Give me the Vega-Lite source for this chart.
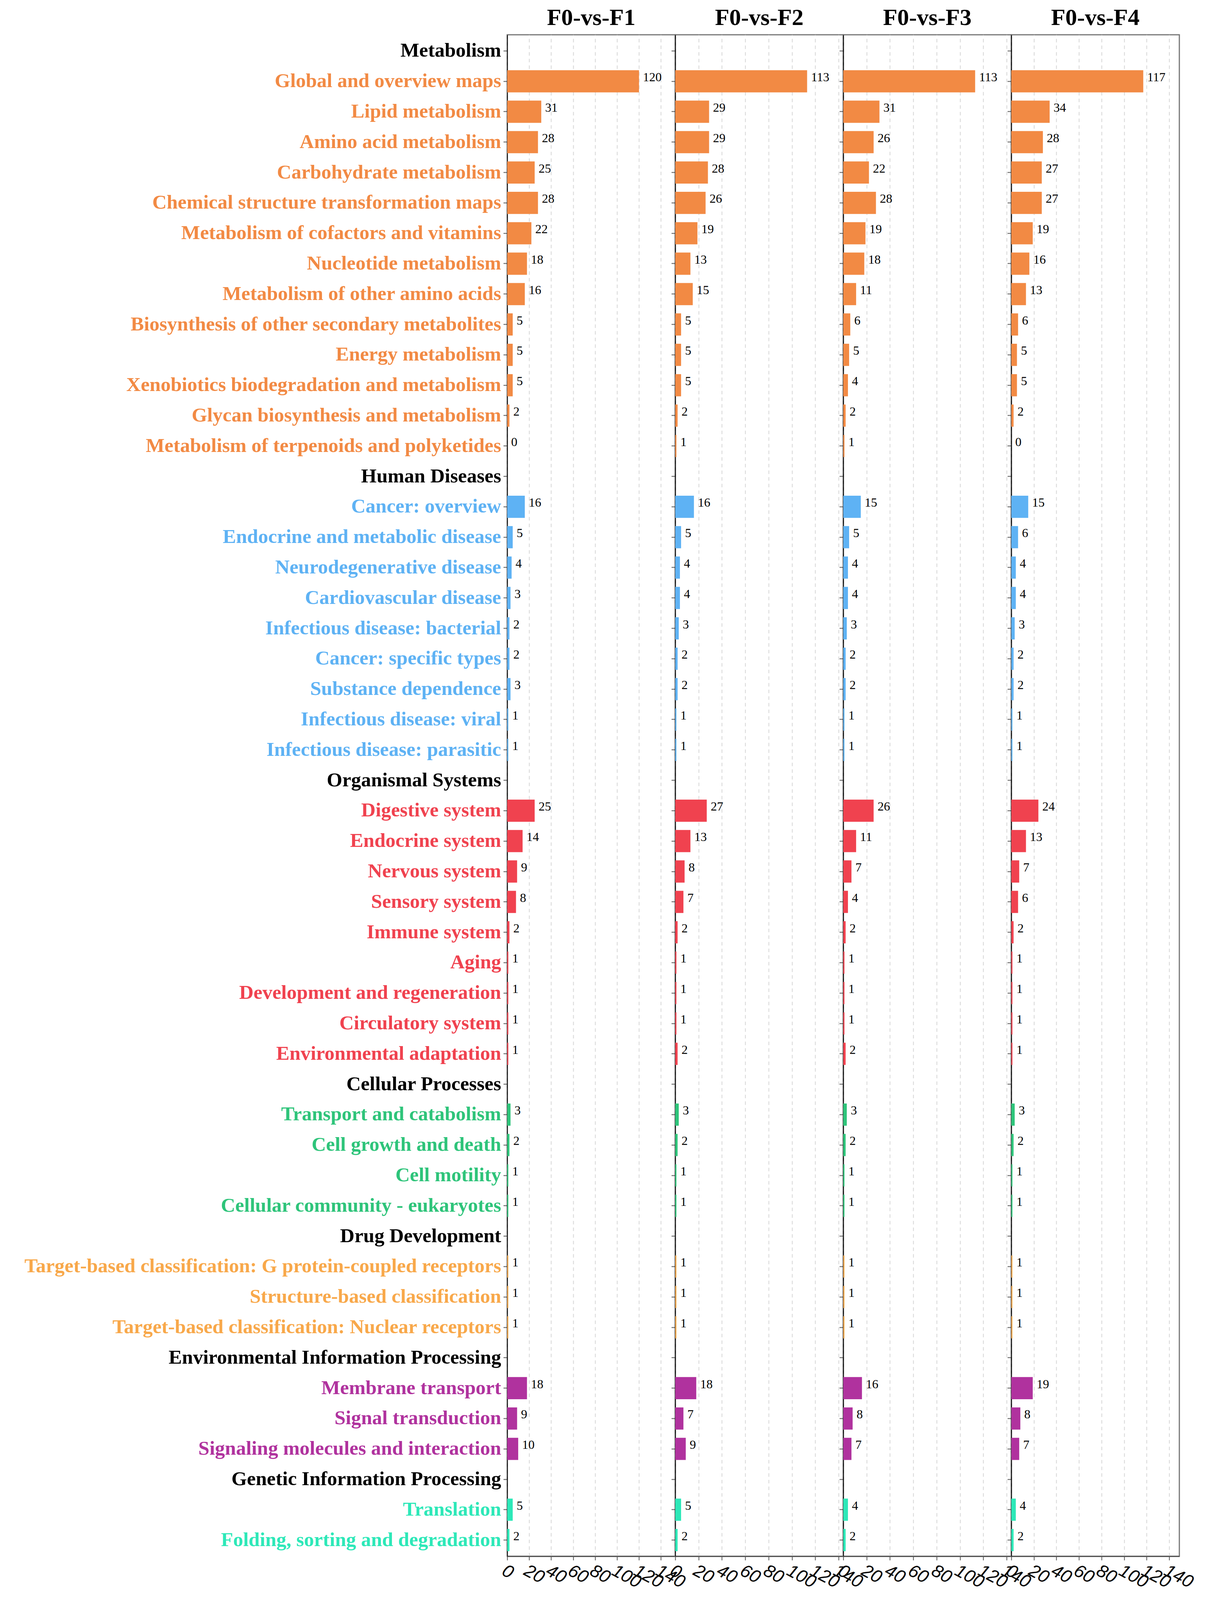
{
  "$schema": "https://vega.github.io/schema/vega-lite/v6.json",
  "padding": {"left": 60, "top": 14, "right": 0, "bottom": 0},
  "background": "white",
  "spacing": 0,
  "bounds": "flush",
  "config": {
    "view": {"stroke": "#777777", "strokeWidth": 3},
    "title": {"font": "Liberation Serif", "fontWeight": "bold", "fontSize": 60, "color": "black", "anchor": "middle", "offset": 12},
    "axisX": {
      "grid": true, "gridDash": [9, 8], "gridColor": "#d6d6d6", "gridWidth": 2,
      "labelAngle": 28, "labelAlign": "left", "labelBaseline": "top",
      "labelFont": "Liberation Sans", "labelFontStyle": "italic", "labelFontSize": 46, "labelColor": "black",
      "labelOverlap": false, "labelFlush": false, "labelPadding": 4,
      "domainColor": "#555555", "domainWidth": 3,
      "tickSize": 10, "tickColor": "#555555", "tickWidth": 2, "title": null
    },
    "axisY": {
      "grid": false, "title": null, "minExtent": 0,
      "domainColor": "black", "domainWidth": 2,
      "tickSize": 10, "tickColor": "#555555", "tickWidth": 2
    }
  },
  "params": [
    {"name": "metab", "value": ["Global and overview maps", "Lipid metabolism", "Amino acid metabolism", "Carbohydrate metabolism", "Chemical structure transformation maps", "Metabolism of cofactors and vitamins", "Nucleotide metabolism", "Metabolism of other amino acids", "Biosynthesis of other secondary metabolites", "Energy metabolism", "Xenobiotics biodegradation and metabolism", "Glycan biosynthesis and metabolism", "Metabolism of terpenoids and polyketides"]},
    {"name": "human", "value": ["Cancer: overview", "Endocrine and metabolic disease", "Neurodegenerative disease", "Cardiovascular disease", "Infectious disease: bacterial", "Cancer: specific types", "Substance dependence", "Infectious disease: viral", "Infectious disease: parasitic"]},
    {"name": "organ", "value": ["Digestive system", "Endocrine system", "Nervous system", "Sensory system", "Immune system", "Aging", "Development and regeneration", "Circulatory system", "Environmental adaptation"]},
    {"name": "cellp", "value": ["Transport and catabolism", "Cell growth and death", "Cell motility", "Cellular community - eukaryotes"]},
    {"name": "drug", "value": ["Target-based classification: G protein-coupled receptors", "Structure-based classification", "Target-based classification: Nuclear receptors"]},
    {"name": "envp", "value": ["Membrane transport", "Signal transduction", "Signaling molecules and interaction"]},
    {"name": "genp", "value": ["Translation", "Folding, sorting and degradation"]}
  ],
  "datasets": {
    "kegg": [
      {"term": "Global and overview maps", "cat": "Metabolism", "F1": 120, "F2": 113, "F3": 113, "F4": 117},
      {"term": "Lipid metabolism", "cat": "Metabolism", "F1": 31, "F2": 29, "F3": 31, "F4": 34},
      {"term": "Amino acid metabolism", "cat": "Metabolism", "F1": 28, "F2": 29, "F3": 26, "F4": 28},
      {"term": "Carbohydrate metabolism", "cat": "Metabolism", "F1": 25, "F2": 28, "F3": 22, "F4": 27},
      {"term": "Chemical structure transformation maps", "cat": "Metabolism", "F1": 28, "F2": 26, "F3": 28, "F4": 27},
      {"term": "Metabolism of cofactors and vitamins", "cat": "Metabolism", "F1": 22, "F2": 19, "F3": 19, "F4": 19},
      {"term": "Nucleotide metabolism", "cat": "Metabolism", "F1": 18, "F2": 13, "F3": 18, "F4": 16},
      {"term": "Metabolism of other amino acids", "cat": "Metabolism", "F1": 16, "F2": 15, "F3": 11, "F4": 13},
      {"term": "Biosynthesis of other secondary metabolites", "cat": "Metabolism", "F1": 5, "F2": 5, "F3": 6, "F4": 6},
      {"term": "Energy metabolism", "cat": "Metabolism", "F1": 5, "F2": 5, "F3": 5, "F4": 5},
      {"term": "Xenobiotics biodegradation and metabolism", "cat": "Metabolism", "F1": 5, "F2": 5, "F3": 4, "F4": 5},
      {"term": "Glycan biosynthesis and metabolism", "cat": "Metabolism", "F1": 2, "F2": 2, "F3": 2, "F4": 2},
      {"term": "Metabolism of terpenoids and polyketides", "cat": "Metabolism", "F1": 0, "F2": 1, "F3": 1, "F4": 0},
      {"term": "Cancer: overview", "cat": "Human Diseases", "F1": 16, "F2": 16, "F3": 15, "F4": 15},
      {"term": "Endocrine and metabolic disease", "cat": "Human Diseases", "F1": 5, "F2": 5, "F3": 5, "F4": 6},
      {"term": "Neurodegenerative disease", "cat": "Human Diseases", "F1": 4, "F2": 4, "F3": 4, "F4": 4},
      {"term": "Cardiovascular disease", "cat": "Human Diseases", "F1": 3, "F2": 4, "F3": 4, "F4": 4},
      {"term": "Infectious disease: bacterial", "cat": "Human Diseases", "F1": 2, "F2": 3, "F3": 3, "F4": 3},
      {"term": "Cancer: specific types", "cat": "Human Diseases", "F1": 2, "F2": 2, "F3": 2, "F4": 2},
      {"term": "Substance dependence", "cat": "Human Diseases", "F1": 3, "F2": 2, "F3": 2, "F4": 2},
      {"term": "Infectious disease: viral", "cat": "Human Diseases", "F1": 1, "F2": 1, "F3": 1, "F4": 1},
      {"term": "Infectious disease: parasitic", "cat": "Human Diseases", "F1": 1, "F2": 1, "F3": 1, "F4": 1},
      {"term": "Digestive system", "cat": "Organismal Systems", "F1": 25, "F2": 27, "F3": 26, "F4": 24},
      {"term": "Endocrine system", "cat": "Organismal Systems", "F1": 14, "F2": 13, "F3": 11, "F4": 13},
      {"term": "Nervous system", "cat": "Organismal Systems", "F1": 9, "F2": 8, "F3": 7, "F4": 7},
      {"term": "Sensory system", "cat": "Organismal Systems", "F1": 8, "F2": 7, "F3": 4, "F4": 6},
      {"term": "Immune system", "cat": "Organismal Systems", "F1": 2, "F2": 2, "F3": 2, "F4": 2},
      {"term": "Aging", "cat": "Organismal Systems", "F1": 1, "F2": 1, "F3": 1, "F4": 1},
      {"term": "Development and regeneration", "cat": "Organismal Systems", "F1": 1, "F2": 1, "F3": 1, "F4": 1},
      {"term": "Circulatory system", "cat": "Organismal Systems", "F1": 1, "F2": 1, "F3": 1, "F4": 1},
      {"term": "Environmental adaptation", "cat": "Organismal Systems", "F1": 1, "F2": 2, "F3": 2, "F4": 1},
      {"term": "Transport and catabolism", "cat": "Cellular Processes", "F1": 3, "F2": 3, "F3": 3, "F4": 3},
      {"term": "Cell growth and death", "cat": "Cellular Processes", "F1": 2, "F2": 2, "F3": 2, "F4": 2},
      {"term": "Cell motility", "cat": "Cellular Processes", "F1": 1, "F2": 1, "F3": 1, "F4": 1},
      {"term": "Cellular community - eukaryotes", "cat": "Cellular Processes", "F1": 1, "F2": 1, "F3": 1, "F4": 1},
      {"term": "Target-based classification: G protein-coupled receptors", "cat": "Drug Development", "F1": 1, "F2": 1, "F3": 1, "F4": 1},
      {"term": "Structure-based classification", "cat": "Drug Development", "F1": 1, "F2": 1, "F3": 1, "F4": 1},
      {"term": "Target-based classification: Nuclear receptors", "cat": "Drug Development", "F1": 1, "F2": 1, "F3": 1, "F4": 1},
      {"term": "Membrane transport", "cat": "Environmental Information Processing", "F1": 18, "F2": 18, "F3": 16, "F4": 19},
      {"term": "Signal transduction", "cat": "Environmental Information Processing", "F1": 9, "F2": 7, "F3": 8, "F4": 8},
      {"term": "Signaling molecules and interaction", "cat": "Environmental Information Processing", "F1": 10, "F2": 9, "F3": 7, "F4": 7},
      {"term": "Translation", "cat": "Genetic Information Processing", "F1": 5, "F2": 5, "F3": 4, "F4": 4},
      {"term": "Folding, sorting and degradation", "cat": "Genetic Information Processing", "F1": 2, "F2": 2, "F3": 2, "F4": 2}
    ]
  },
  "resolve": {"scale": {"x": "independent", "y": "shared", "color": "shared"}, "axis": {"x": "independent", "y": "independent"}},
  "hconcat": [
    {
      "width": 430, "height": 3895,
      "title": "F0-vs-F1",
      "data": {"name": "kegg"},
      "encoding": {
        "y": {"field": "term", "type": "nominal",
          "scale": {"domain": ["Metabolism", "Global and overview maps", "Lipid metabolism", "Amino acid metabolism", "Carbohydrate metabolism", "Chemical structure transformation maps", "Metabolism of cofactors and vitamins", "Nucleotide metabolism", "Metabolism of other amino acids", "Biosynthesis of other secondary metabolites", "Energy metabolism", "Xenobiotics biodegradation and metabolism", "Glycan biosynthesis and metabolism", "Metabolism of terpenoids and polyketides", "Human Diseases", "Cancer: overview", "Endocrine and metabolic disease", "Neurodegenerative disease", "Cardiovascular disease", "Infectious disease: bacterial", "Cancer: specific types", "Substance dependence", "Infectious disease: viral", "Infectious disease: parasitic", "Organismal Systems", "Digestive system", "Endocrine system", "Nervous system", "Sensory system", "Immune system", "Aging", "Development and regeneration", "Circulatory system", "Environmental adaptation", "Cellular Processes", "Transport and catabolism", "Cell growth and death", "Cell motility", "Cellular community - eukaryotes", "Drug Development", "Target-based classification: G protein-coupled receptors", "Structure-based classification", "Target-based classification: Nuclear receptors", "Environmental Information Processing", "Membrane transport", "Signal transduction", "Signaling molecules and interaction", "Genetic Information Processing", "Translation", "Folding, sorting and degradation"], "paddingInner": 0.27, "paddingOuter": 0.167},
          "axis": {"labelFont": "Liberation Serif", "labelFontWeight": "bold", "labelFontSize": 51, "labelLimit": 2000, "labelPadding": 6,
            "labelColor": {"expr": "indexof(metab, datum.value) >= 0 ? '#F28A44' : indexof(human, datum.value) >= 0 ? '#5EB2F4' : indexof(organ, datum.value) >= 0 ? '#F0424F' : indexof(cellp, datum.value) >= 0 ? '#2EC47A' : indexof(drug, datum.value) >= 0 ? '#F8A84A' : indexof(envp, datum.value) >= 0 ? '#B0329E' : indexof(genp, datum.value) >= 0 ? '#2DE8B8' : 'black'"}}}
      },
      "layer": [
        {"mark": {"type": "bar"},
         "encoding": {
           "x": {"field": "F1", "type": "quantitative", "scale": {"domain": [0, 153], "nice": false}, "axis": {"values": [0, 20, 40, 60, 80, 100, 120, 140]}},
           "color": {"field": "cat", "type": "nominal", "legend": null,
             "scale": {"domain": ["Metabolism", "Human Diseases", "Organismal Systems", "Cellular Processes", "Drug Development", "Environmental Information Processing", "Genetic Information Processing"], "range": ["#F28A44", "#5EB2F4", "#F0424F", "#2EC47A", "#F8A84A", "#B0329E", "#2DE8B8"]}}}},
        {"mark": {"type": "text", "align": "left", "baseline": "middle", "dx": 10, "dy": -10, "font": "Liberation Serif", "fontSize": 32, "color": "black"},
         "encoding": {"x": {"field": "F1", "type": "quantitative"}, "text": {"field": "F1", "type": "quantitative"}}}
      ]
    },
    {
      "width": 430, "height": 3895,
      "title": "F0-vs-F2",
      "data": {"name": "kegg"},
      "encoding": {"y": {"field": "term", "type": "nominal", "axis": {"labels": false}}},
      "layer": [
        {"mark": {"type": "bar"},
         "encoding": {
           "x": {"field": "F2", "type": "quantitative", "scale": {"domain": [0, 144], "nice": false}, "axis": {"values": [0, 20, 40, 60, 80, 100, 120, 140]}},
           "color": {"field": "cat", "type": "nominal", "legend": null}}},
        {"mark": {"type": "text", "align": "left", "baseline": "middle", "dx": 10, "dy": -10, "font": "Liberation Serif", "fontSize": 32, "color": "black"},
         "encoding": {"x": {"field": "F2", "type": "quantitative"}, "text": {"field": "F2", "type": "quantitative"}}}
      ]
    },
    {
      "width": 430, "height": 3895,
      "title": "F0-vs-F3",
      "data": {"name": "kegg"},
      "encoding": {"y": {"field": "term", "type": "nominal", "axis": {"labels": false}}},
      "layer": [
        {"mark": {"type": "bar"},
         "encoding": {
           "x": {"field": "F3", "type": "quantitative", "scale": {"domain": [0, 144], "nice": false}, "axis": {"values": [0, 20, 40, 60, 80, 100, 120, 140]}},
           "color": {"field": "cat", "type": "nominal", "legend": null}}},
        {"mark": {"type": "text", "align": "left", "baseline": "middle", "dx": 10, "dy": -10, "font": "Liberation Serif", "fontSize": 32, "color": "black"},
         "encoding": {"x": {"field": "F3", "type": "quantitative"}, "text": {"field": "F3", "type": "quantitative"}}}
      ]
    },
    {
      "width": 430, "height": 3895,
      "title": "F0-vs-F4",
      "data": {"name": "kegg"},
      "encoding": {"y": {"field": "term", "type": "nominal", "axis": {"labels": false}}},
      "layer": [
        {"mark": {"type": "bar"},
         "encoding": {
           "x": {"field": "F4", "type": "quantitative", "scale": {"domain": [0, 149], "nice": false}, "axis": {"values": [0, 20, 40, 60, 80, 100, 120, 140]}},
           "color": {"field": "cat", "type": "nominal", "legend": null}}},
        {"mark": {"type": "text", "align": "left", "baseline": "middle", "dx": 10, "dy": -10, "font": "Liberation Serif", "fontSize": 32, "color": "black"},
         "encoding": {"x": {"field": "F4", "type": "quantitative"}, "text": {"field": "F4", "type": "quantitative"}}}
      ]
    }
  ]
}
